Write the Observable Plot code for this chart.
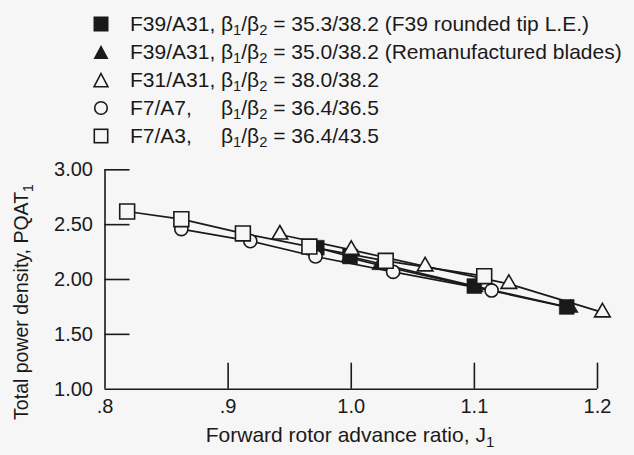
<!DOCTYPE html>
<html><head><meta charset="utf-8">
<script src="https://cdn.jsdelivr.net/npm/d3@7"></script>
<script src="https://cdn.jsdelivr.net/npm/@observablehq/plot@0.6"></script>
<style>
body{margin:0;background:#f6f6f6;font-family:"Liberation Sans",Arial,sans-serif;color:#1a1a1a;}
#legend{position:relative;height:150px;width:634px;}
.row{position:absolute;left:93px;height:28px;display:flex;align-items:center;font-size:21px;white-space:nowrap;}
.row svg{width:16px;height:16px;margin-right:21px;flex:none;}
.lab{display:inline-block;width:91px;}
sub{font-size:0.7em;vertical-align:-0.3em;line-height:0;}
#chart svg{display:block;}
</style></head>
<body>
<div id="legend"></div>
<div id="chart"></div>
<script>
// Series data: forward rotor advance ratio J1 and total power density PQAT1
const seriesNames = ["F39/A31 rounded", "F39/A31 reman", "F31/A31", "F7/A7", "F7/A3"];
const legendLabels = [
  ["F39/A31,", "35.3/38.2 (F39 rounded tip L.E.)"],
  ["F39/A31,", "35.0/38.2 (Remanufactured blades)"],
  ["F31/A31,", "38.0/38.2"],
  ["F7/A7,", "36.4/36.5"],
  ["F7/A3,", "36.4/43.5"]
];
const j_F39rounded = [0.972, 0.999, 1.100, 1.175];
const p_F39rounded = [2.29, 2.21, 1.94, 1.75];
const j_F39reman = [0.998, 1.023, 1.101, 1.178];
const p_F39reman = [2.20, 2.13, 1.93, 1.74];
const j_F31A31 = [0.942, 1.000, 1.060, 1.128, 1.204];
const p_F31A31 = [2.41, 2.27, 2.12, 1.96, 1.70];
const j_F7A7 = [0.862, 0.918, 0.971, 1.034, 1.114];
const p_F7A7 = [2.46, 2.35, 2.21, 2.07, 1.90];
const j_F7A3 = [0.818, 0.862, 0.912, 0.966, 1.028, 1.108];
const p_F7A3 = [2.62, 2.55, 2.42, 2.30, 2.17, 2.03];
const xTicks = [0.8, 0.9, 1.0, 1.1, 1.2];
const yTicks = [1.0, 1.5, 2.0, 2.5, 3.0];

const ink = "#1a1a1a", bg = "#f6f6f6";
const symbols = ["square", "triangle", "triangle", "circle", "square"];
const filled = [true, true, false, false, false];
const radii = [8.4, 5.8, 5.8, 6.6, 8.4];

const J = [j_F39rounded, j_F39reman, j_F31A31, j_F7A7, j_F7A3];
const P = [p_F39rounded, p_F39reman, p_F31A31, p_F7A7, p_F7A3];
const data = [];
J.forEach((js, s) => js.forEach((j, i) => data.push({series: seriesNames[s], s, j, p: P[s][i]})));

// Legend (HTML)
const legendSvg = [
  '<svg viewBox="0 0 16 16"><rect x="0.5" y="0.5" width="15" height="15" fill="#1a1a1a"/></svg>',
  '<svg viewBox="0 0 16 16"><path d="M8,1 L15.5,15 L0.5,15 Z" fill="#1a1a1a"/></svg>',
  '<svg viewBox="0 0 16 16"><path d="M8,1.5 L15,14.8 L1,14.8 Z" fill="none" stroke="#1a1a1a" stroke-width="1.6"/></svg>',
  '<svg viewBox="0 0 16 16"><circle cx="8" cy="8" r="6.3" fill="none" stroke="#1a1a1a" stroke-width="1.6"/></svg>',
  '<svg viewBox="0 0 16 16"><rect x="1.3" y="1.3" width="13.4" height="13.4" fill="none" stroke="#1a1a1a" stroke-width="1.6"/></svg>'
];
const leg = document.getElementById("legend");
legendLabels.forEach((l, i) => {
  const row = document.createElement("div");
  row.className = "row";
  row.style.top = (10 + 28 * i) + "px";
  row.innerHTML = legendSvg[i] + '<span class="lab">' + l[0] + '</span><span>β<sub>1</sub>/β<sub>2</sub> = ' + l[1] + '</span>';
  leg.appendChild(row);
});

const W = 634, H = 305, mL = 104.5, mR = 37, mT = 19.3, mB = 66.3;
const plotW = W - mL - mR, plotH = H - mT - mB;

const marks = [
  // inward ticks
  Plot.ruleY(yTicks.slice(1), {y: d => d, stroke: ink, strokeWidth: 1.6, insetRight: plotW - 25}),
  Plot.ruleX(xTicks.slice(1), {x: d => d, stroke: ink, strokeWidth: 1.6, insetTop: plotH - 26}),
  // axis lines
  Plot.ruleY([1.0], {stroke: ink, strokeWidth: 1.6}),
  Plot.ruleX([0.8], {stroke: ink, strokeWidth: 1.6}),
];
seriesNames.forEach((name, s) => {
  marks.push(Plot.line(data.filter(d => d.s === s), {x: "j", y: "p", stroke: ink, strokeWidth: 1.7}));
});
seriesNames.forEach((name, s) => {
  marks.push(Plot.dot(data.filter(d => d.s === s), {
    x: "j", y: "p", symbol: () => symbols[s], r: radii[s],
    fill: filled[s] ? ink : bg, stroke: ink, strokeWidth: filled[s] ? 0.5 : 1.6
  }));
});

const chart = Plot.plot({
  width: W, height: H,
  marginLeft: mL, marginRight: mR, marginTop: mT, marginBottom: mB,
  style: {background: bg, color: ink, fontSize: "20px", fontFamily: '"Liberation Sans", Arial, sans-serif'},
  x: {domain: [0.8, 1.2], ticks: xTicks, tickSize: 0, tickPadding: 10, label: null,
      tickFormat: d => d < 1 ? "." + Math.round(d * 10) : d.toFixed(1)},
  y: {domain: [1, 3], ticks: yTicks, tickSize: 0, tickPadding: 12, label: null,
      tickFormat: d => d.toFixed(2)},
  symbol: {type: "identity"},
  marks
});
document.getElementById("chart").appendChild(chart);

// Axis titles with subscripts
const svg = d3.select(chart);
const xt = svg.append("text").attr("x", 350).attr("y", H - 13).attr("text-anchor", "middle")
  .attr("font-size", 21).attr("fill", ink);
xt.append("tspan").text("Forward rotor advance ratio, J");
xt.append("tspan").attr("font-size", 15).attr("dy", 5).text("1");
const yt = svg.append("text").attr("transform", `translate(28,${302 - 150}) rotate(-90)`)
  .attr("text-anchor", "middle").attr("font-size", 19.5).attr("fill", ink);
yt.append("tspan").text("Total power density, PQAT");
yt.append("tspan").attr("font-size", 14).attr("dy", 5).text("1");
</script>
</body></html>
